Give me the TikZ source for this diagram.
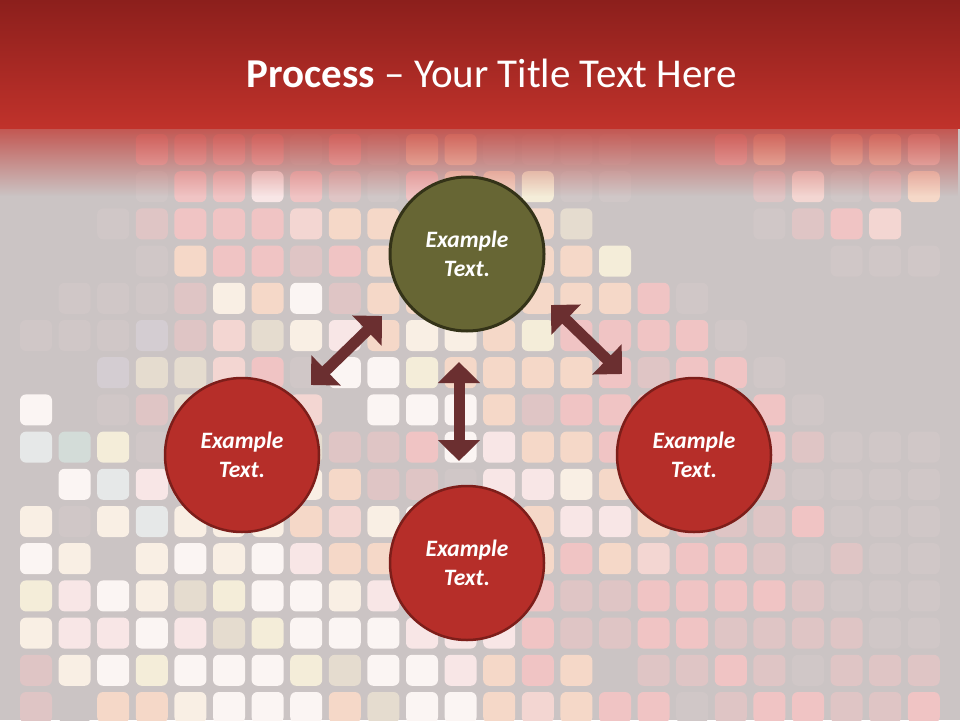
\documentclass[tikz,border=0pt]{standalone}
\usepackage{fontspec}
\setmainfont{Carlito}
\usetikzlibrary{arrows.meta,fadings}

\definecolor{slidebg}{RGB}{203,196,196}
\definecolor{headtop}{RGB}{140,31,28}
\definecolor{headbot}{RGB}{192,50,43}
\definecolor{olivefill}{RGB}{103,102,52}
\definecolor{olivedraw}{RGB}{52,51,24}
\definecolor{redfill}{RGB}{182,46,41}
\definecolor{reddraw}{RGB}{125,30,26}
\definecolor{arrowc}{RGB}{107,47,48}
% tile colours
\definecolor{tileN}{RGB}{203,196,196}
\definecolor{tileF}{RGB}{208,199,199}
\definecolor{tileW}{HTML}{FBF5F3}
\definecolor{tileC}{HTML}{F9EFE4}
\definecolor{tileY}{HTML}{F4EDD9}
\definecolor{tileP}{HTML}{F3D6D2}
\definecolor{tileK}{HTML}{F0C4C4}
\definecolor{tileE}{HTML}{F5D8C8}
\definecolor{tileT}{HTML}{E5DCCF}
\definecolor{tileM}{HTML}{DFC5C5}
\definecolor{tileL}{HTML}{E6E8E8}
\definecolor{tileG}{HTML}{D3DCD8}
\definecolor{tileV}{HTML}{D4CDD2}
\definecolor{tileS}{HTML}{F8E6E6}

\tikzfading[name=headfade, top color=transparent!25, bottom color=transparent!100]

\tikzset{
  tile/.style={rounded corners=6pt},
  stepcirc/.style={circle, minimum size=154pt, inner sep=0pt, line width=2.5pt,
    text=white, align=center, font=\fontsize{23.5}{29}\selectfont\bfseries\itshape},
  greencirc/.style={stepcirc, fill=olivefill, draw=olivedraw, line width=3pt},
  redcirc/.style={stepcirc, fill=redfill, draw=reddraw},
  dblarrow/.style={draw=arrowc, line width=11pt,
    {Triangle[length=21pt,width=41pt]}-{Triangle[length=21pt,width=41pt]}}
}

\begin{document}
\begin{tikzpicture}[x=1pt,y=-1pt]
\useasboundingbox (0,0) rectangle (960,720);
\fill[slidebg] (0,0) rectangle (960,720);

% background tiles, one list per row
\foreach \row [count=\j from 0] in {
  {N,N,N,K,K,K,K,F,K,F,E,E,F,F,F,F,N,N,K,E,N,E,E,P},
  {N,N,N,F,K,K,S,K,M,F,K,E,E,Y,F,F,N,N,N,M,P,F,M,E},
  {N,N,F,M,K,K,K,P,E,E,E,E,E,E,T,N,N,N,N,F,M,K,P,N},
  {N,N,N,F,E,K,K,M,K,E,E,E,E,E,E,Y,N,N,N,N,N,F,F,F},
  {N,F,F,F,M,C,E,W,M,E,E,E,E,E,E,E,K,F,N,N,N,N,N,N},
  {F,F,F,V,M,P,T,C,S,E,C,C,E,Y,K,K,K,K,F,N,N,N,N,N},
  {N,N,V,T,T,P,K,F,W,W,Y,E,E,E,E,K,M,K,K,F,N,N,N,N},
  {W,N,F,M,T,T,T,P,N,W,W,W,E,M,K,K,K,K,K,K,F,N,N,N},
  {L,G,Y,F,T,T,T,T,M,M,K,W,S,E,E,K,K,K,K,K,M,F,F,F},
  {N,W,L,S,C,C,C,C,E,M,M,F,S,S,C,E,K,K,K,M,F,F,F,F},
  {C,F,C,L,C,C,C,E,P,C,W,W,W,E,S,S,E,K,M,M,K,F,F,F},
  {W,C,N,C,W,C,W,S,E,E,P,P,P,E,K,E,P,K,K,M,F,M,F,F},
  {Y,S,W,C,T,Y,W,W,C,S,S,S,S,K,M,M,K,K,K,K,M,F,F,F},
  {C,S,S,W,S,T,Y,W,W,W,S,S,S,K,M,M,K,K,M,M,M,M,F,F},
  {M,C,W,Y,W,W,W,Y,T,W,W,S,E,K,E,N,M,M,K,M,F,M,M,M},
  {M,N,E,E,C,W,W,W,E,T,W,W,E,P,E,K,K,F,M,K,K,M,M,K}}{
  \foreach \c [count=\i from 0] in \row
    \fill[tile, tile\c] (20+38.6*\i,134+37.2*\j) rectangle ++(32,31);
}

% title band
\shade[top color=headtop, bottom color=headbot] (0,0) rectangle (960,128);
\fill[headbot, path fading=headfade] (0,128) rectangle (960,196);
\node[anchor=base, text=white, font=\fontsize{41}{48}\selectfont] (title) at (492,87)
  {\textbf{Process} -- Your Title Text Here};

% circles
\node[greencirc] (ctop) at (467,254) {Example\\Text.};
\node[redcirc] (cleft) at (242,455) {Example\\Text.};
\node[redcirc] (cright) at (694,455) {Example\\Text.};
\node[redcirc] (cbottom) at (467,563) {Example\\Text.};

% arrows between them
\coordinate (al1) at (382,316);
\coordinate (al2) at (311,385);
\coordinate (av1) at (459,362);
\coordinate (av2) at (459,461);
\coordinate (ar1) at (551,305);
\coordinate (ar2) at (622,374);
\draw[dblarrow] (al1) -- (al2);
\draw[dblarrow] (av1) -- (av2);
\draw[dblarrow] (ar1) -- (ar2);
\end{tikzpicture}
\end{document}
